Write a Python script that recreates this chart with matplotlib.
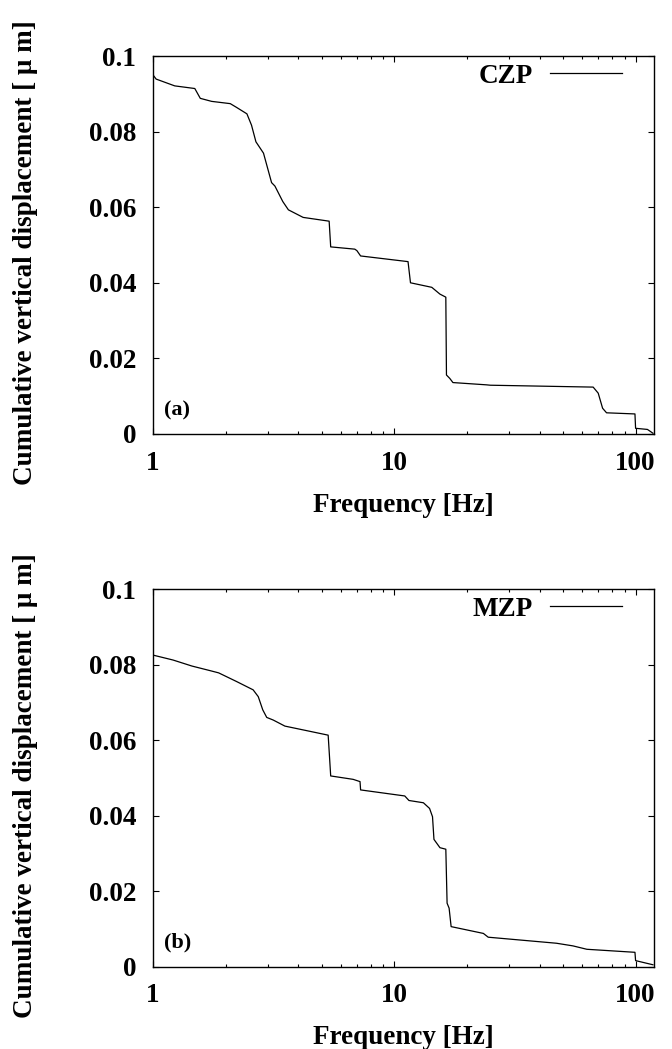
import matplotlib
matplotlib.use('Agg')
import matplotlib.pyplot as plt
from matplotlib.ticker import FixedLocator, FixedFormatter, LogLocator, NullFormatter

plt.rcParams['font.family'] = ['Liberation Serif', 'DejaVu Serif']
plt.rcParams['font.weight'] = 'bold'

# panel (a): CZP
freq_a = [1.0, 1.03, 1.23, 1.49, 1.57, 1.75, 2.09, 2.22, 2.45, 2.56, 2.67, 2.87,
          3.10, 3.20, 3.45, 3.64, 4.19, 5.37, 5.45, 6.86, 7.0, 7.25, 11.4, 11.67,
          14.3, 15.46, 16.35, 16.45, 16.98, 17.5, 24.1, 25.0, 66.7, 70.0, 73.0,
          75.8, 99.4, 100.0, 112.0, 118.0]
disp_a = [0.0950, 0.0939, 0.0921, 0.0914, 0.0888, 0.0880, 0.0874, 0.0864,
          0.0847, 0.0817, 0.0773, 0.0743, 0.0665, 0.0656, 0.0615, 0.0593,
          0.0573, 0.0563, 0.0495, 0.0489, 0.0485, 0.0471, 0.0456, 0.0400,
          0.0388, 0.0370, 0.0362, 0.0156, 0.0147, 0.0136, 0.0130, 0.0129,
          0.0124, 0.0108, 0.0068, 0.0056, 0.0053, 0.0015, 0.0012, 0.0002]

# panel (b): MZP
freq_b = [1.0, 1.21, 1.45, 1.72, 1.87, 2.22, 2.60, 2.73, 2.85, 2.96, 3.15, 3.52,
          4.33, 5.32, 5.45, 6.75, 7.21, 7.25, 11.05, 11.5, 13.2, 14.0, 14.4,
          14.6, 15.46, 16.35, 16.55, 16.87, 17.2, 23.4, 24.5, 47.0, 55.0, 62.8,
          99.4, 100.0, 118.0]
disp_b = [0.0825, 0.0812, 0.0796, 0.0784, 0.0778, 0.0755, 0.0733, 0.0715,
          0.0680, 0.0660, 0.0653, 0.0637, 0.0625, 0.0613, 0.0505, 0.0496,
          0.0490, 0.0468, 0.0452, 0.0440, 0.0434, 0.0419, 0.0397, 0.0337,
          0.0315, 0.0311, 0.0168, 0.0155, 0.0106, 0.0088, 0.0078, 0.0062,
          0.0055, 0.0046, 0.0038, 0.0016, 0.0005]

y_ticks = [0, 0.02, 0.04, 0.06, 0.08, 0.1]
y_tick_labels = ['0', '0.02', '0.04', '0.06', '0.08', '0.1']
x_ticks = [1, 10, 100]
x_tick_labels = ['1', '10', '100']

FS = 19.5


def panel(ax, freq, disp, name, tag):
    ax.plot(freq, disp, color='black', lw=0.9, label=name)
    ax.set_xscale('log')
    ax.set_xlim(1, 119.2)
    ax.set_ylim(0, 0.1)

    ax.xaxis.set_major_locator(FixedLocator(x_ticks))
    ax.xaxis.set_major_formatter(FixedFormatter(x_tick_labels))
    ax.xaxis.set_minor_locator(LogLocator(base=10, subs=range(2, 10)))
    ax.xaxis.set_minor_formatter(NullFormatter())
    ax.yaxis.set_major_locator(FixedLocator(y_ticks))
    ax.yaxis.set_major_formatter(FixedFormatter(y_tick_labels))

    ax.tick_params(which='both', direction='in', top=True, right=True, labelsize=FS)
    ax.tick_params(which='major', length=4.3, width=0.8)
    ax.tick_params(which='minor', length=2.2, width=0.8)
    ax.tick_params(axis='x', which='major', pad=12)
    ax.tick_params(axis='y', which='major', pad=12)
    for sp in ax.spines.values():
        sp.set_linewidth(1.0)

    ax.set_xlabel('Frequency [Hz]', fontsize=FS, fontweight='bold')
    ax.xaxis.set_label_coords(0.5, -0.155)
    ax.set_ylabel('Cumulative vertical displacement [ μ m]', fontsize=FS, fontweight='bold')
    ax.yaxis.set_label_coords(-0.229, 0.48)

    ax.legend(loc='center right', bbox_to_anchor=(0.936, 0.947), frameon=False,
              markerfirst=False, handlelength=2.65, handletextpad=0.63,
              borderpad=0, borderaxespad=0, prop={'size': FS, 'weight': 'bold'})
    ax.text(0.022, 0.063, tag, transform=ax.transAxes, ha='left', va='center',
            fontsize=FS * 0.82, fontweight='bold')


def main():
    fig = plt.figure(figsize=(6.72, 10.49), dpi=100)
    ax_a = fig.add_axes([0.2277, 0.5863, 0.7455, 0.3603])
    ax_b = fig.add_axes([0.2277, 0.0785, 0.7455, 0.3600])

    panel(ax_a, freq_a, disp_a, 'CZP', '(a)')
    panel(ax_b, freq_b, disp_b, 'MZP', '(b)')

    fig.savefig('out.png', dpi=100)


if __name__ == '__main__':
    main()
